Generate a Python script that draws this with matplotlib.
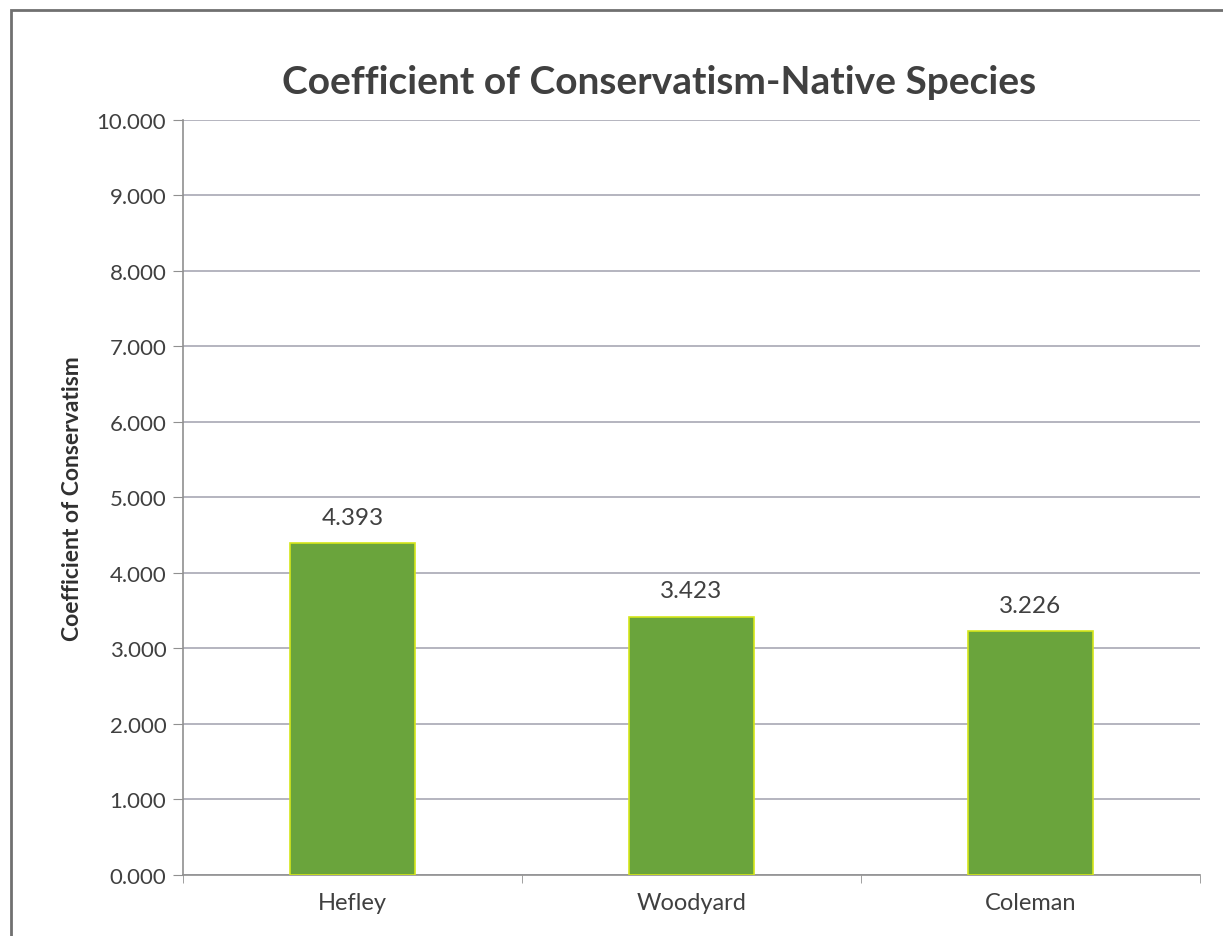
import numpy as np
import matplotlib
matplotlib.use("Agg")
import matplotlib.pyplot as plt
from matplotlib.ticker import FormatStrFormatter, FixedLocator
from matplotlib.patches import Rectangle

plt.rcParams["font.family"] = ["Lato", "DejaVu Sans"]

sites = ["Hefley", "Woodyard", "Coleman"]
values = [4.393, 3.423, 3.226]
yticks = np.arange(0, 11, 1)

fig = plt.figure(figsize=(12.23, 9.37), dpi=100)
ax = fig.add_axes([0.1496, 0.0651, 0.8316, 0.8058])

x = np.arange(len(sites))
ax.bar(x, values, width=0.37, color="#6aa43c", edgecolor="#d4e61a", linewidth=1.2, zorder=3)
for xi, v in zip(x, values):
    ax.text(xi, v + 0.2, f"{v:.3f}", ha="center", va="bottom", fontsize=17.5, color="#404040")

ax.set_xlim(-0.5, 2.5)
ax.set_ylim(0, 10)
ax.set_yticks(yticks)
ax.yaxis.set_major_formatter(FormatStrFormatter("%.3f"))
ax.set_xticks(x)
ax.set_xticklabels(sites, fontsize=17, color="#404040")
ax.xaxis.set_minor_locator(FixedLocator([-0.5, 0.5, 1.5, 2.5]))
ax.tick_params(axis="x", which="major", length=0, pad=12)
ax.tick_params(axis="x", which="minor", length=6, color="#909090")
ax.tick_params(axis="y", labelsize=16, labelcolor="#404040", length=7, color="#909090", pad=5)
ax.grid(axis="y", color="#a8a8b4", linewidth=1.2, zorder=0)
for s in ["top", "right"]:
    ax.spines[s].set_visible(False)
for s in ["left", "bottom"]:
    ax.spines[s].set_color("#909090")
    ax.spines[s].set_linewidth(1.2)

ax.set_ylabel("Coefficient of Conservatism", fontsize=16.5, fontweight="bold", color="#303030", labelpad=10)
fig.text(0.539, 0.912, "Coefficient of Conservatism-Native Species", ha="center", va="center",
         fontsize=28, fontweight="bold", color="#404040")

fig.patches.append(Rectangle((0.009, -0.01), 1.02, 0.998, transform=fig.transFigure,
                             fill=False, edgecolor="#707070", linewidth=2))

fig.savefig("out.png", dpi=100)
